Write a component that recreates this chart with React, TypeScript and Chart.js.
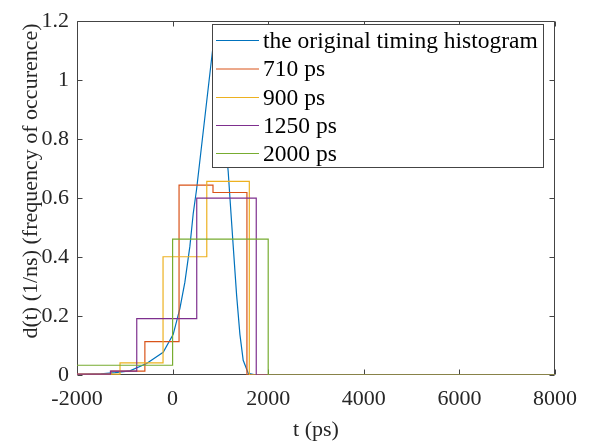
import React, { useEffect, useRef } from 'react';
import { Chart, registerables } from 'chart.js';

Chart.register(...registerables);

// ---- data ----
const seriesNames = ['the original timing histogram', '710 ps', '900 ps', '1250 ps', '2000 ps'];
const seriesColors = ['#0072BD', '#D95319', '#EDB120', '#7E2F8E', '#77AC30'];

// original timing histogram (t in ps, d in 1/ns)
const origT = [-2000, -1500, -1200, -893, -544, -197, 13, 153, 257, 362, 431, 502, 885, 1163, 1199, 1268, 1339, 1408, 1477, 1582, 1700, 2500, 8000];
const origD = [0.001, 0.004, 0.008, 0.014, 0.039, 0.077, 0.138, 0.226, 0.315, 0.437, 0.547, 0.63, 1.17, 0.69, 0.602, 0.437, 0.271, 0.138, 0.05, 0.006, 0.001, 0, 0];

// stairs: left bin edges and the value holding from that edge
const edges710 = [-2000, -1290, -580, 135, 845, 1555, 8000];
const vals710 = [0.002, 0.013, 0.113, 0.644, 0.619, 0, 0];

const edges900 = [-2000, -1100, -200, 715, 1605, 8000];
const vals900 = [0.003, 0.041, 0.401, 0.657, 0, 0];

const edges1250 = [-2000, -1300, -750, 505, 1750, 8000];
const vals1250 = [0.003, 0.013, 0.191, 0.6, 0, 0];

const edges2000 = [-2000, 0, 2000, 8000];
const vals2000 = [0.033, 0.461, 0, 0];

const xMin = -2000;
const xMax = 8000;
const xStep = 2000;
const yMin = 0;
const yMax = 1.2;
const yStep = 0.2;

const xTitle = 't (ps)';
const yTitle = 'd(t) (1/ns) (frequency of occurence)';

const FONT = '"Liberation Serif", "Times New Roman", serif';
const AXIS_COLOR = '#262626';

const toPts = (xs: number[], ys: number[]) => xs.map((x, i) => ({ x, y: ys[i] }));

const framePlugin = {
  id: 'matlabFrame',
  beforeDatasetsDraw(chart: any) {
    const { ctx, chartArea: a, scales } = chart;
    const x = scales.x;
    const y = scales.y;
    ctx.save();
    ctx.strokeStyle = '#444444';
    ctx.lineWidth = 1;
    const L = Math.round(a.left) + 0.5;
    const R = Math.round(a.right) - 0.5;
    const T = Math.round(a.top) + 0.5;
    const B = Math.round(a.bottom) - 0.5;
    ctx.beginPath();
    ctx.rect(L, T, R - L, B - T);
    const tl = 5;
    x.ticks.forEach((t: any) => {
      const px = Math.round(x.getPixelForValue(t.value)) + 0.5;
      ctx.moveTo(px, B);
      ctx.lineTo(px, B - tl);
      ctx.moveTo(px, T);
      ctx.lineTo(px, T + tl);
    });
    y.ticks.forEach((t: any) => {
      const py = Math.round(y.getPixelForValue(t.value)) + 0.5;
      ctx.moveTo(L, py);
      ctx.lineTo(L + tl, py);
      ctx.moveTo(R, py);
      ctx.lineTo(R - tl, py);
    });
    ctx.stroke();
    ctx.restore();
  },
  afterDatasetsDraw(chart: any) {
    const { ctx } = chart;
    ctx.save();
    // legend box
    const bx = 212.5, by = 24.5, bw = 331, bh = 143;
    ctx.fillStyle = '#ffffff';
    ctx.fillRect(bx, by, bw, bh);
    ctx.strokeStyle = '#444444';
    ctx.lineWidth = 1;
    ctx.strokeRect(bx, by, bw, bh);
    const rowY = [40.5, 69, 97.5, 125.5, 153.5];
    ctx.font = `23.5px ${FONT}`;
    ctx.textBaseline = 'middle';
    ctx.textAlign = 'left';
    seriesNames.forEach((name, i) => {
      ctx.beginPath();
      ctx.strokeStyle = seriesColors[i];
      ctx.lineWidth = 1;
      ctx.moveTo(216, rowY[i]);
      ctx.lineTo(259, rowY[i]);
      ctx.stroke();
      ctx.fillStyle = '#000000';
      ctx.fillText(name, 263, rowY[i] + 1);
    });
    ctx.restore();
  },
  afterDraw(chart: any) {
    const { ctx } = chart;
    ctx.save();
    ctx.translate(31, 181);
    ctx.rotate(-Math.PI / 2);
    ctx.font = `22px ${FONT}`;
    ctx.fillStyle = AXIS_COLOR;
    ctx.textAlign = 'center';
    ctx.textBaseline = 'middle';
    ctx.fillText(yTitle, 0, 0);
    ctx.restore();
  },
};

export default function App() {
  const ref = useRef<HTMLCanvasElement>(null);
  useEffect(() => {
    if (!ref.current) return;
    const mk = (label: string, xs: number[], ys: number[], color: string, order: number, stepped: any) => ({
      label,
      data: toPts(xs, ys),
      borderColor: color,
      backgroundColor: color,
      borderWidth: 1.2,
      pointRadius: 0,
      fill: false,
      tension: 0,
      stepped,
      order,
    });
    const chart = new Chart(ref.current, {
      type: 'line',
      data: {
        datasets: [
          mk(seriesNames[0], origT, origD, seriesColors[0], 4, false),
          mk(seriesNames[1], edges710, vals710, seriesColors[1], 3, 'before'),
          mk(seriesNames[2], edges900, vals900, seriesColors[2], 2, 'before'),
          mk(seriesNames[3], edges1250, vals1250, seriesColors[3], 1, 'before'),
          mk(seriesNames[4], edges2000, vals2000, seriesColors[4], 0, 'before'),
        ],
      },
      options: {
        responsive: false,
        animation: false,
        devicePixelRatio: 1,
        layout: { padding: { left: 0, top: 13, right: 38, bottom: 0 } },
        plugins: {
          legend: { display: false },
          tooltip: { enabled: false },
        },
        scales: {
          x: {
            type: 'linear',
            min: xMin,
            max: xMax,
            grid: { display: false, drawTicks: false },
            border: { display: false },
            ticks: {
              stepSize: xStep,
              padding: 11,
              color: AXIS_COLOR,
              font: { family: FONT, size: 22 },
              maxRotation: 0,
              callback: (v: any) => String(v),
            },
            title: {
              display: true,
              text: xTitle,
              color: AXIS_COLOR,
              font: { family: FONT, size: 22 },
              padding: { top: 0, bottom: 0 },
            },
            afterFit: (s: any) => { s.height = 68; },
          },
          y: {
            type: 'linear',
            min: yMin,
            max: yMax,
            grid: { display: false, drawTicks: false },
            border: { display: false },
            ticks: {
              stepSize: yStep,
              padding: 8,
              color: AXIS_COLOR,
              font: { family: FONT, size: 22 },
              callback: (v: any) => String(Math.round(v * 10) / 10),
            },
            afterFit: (s: any) => { s.width = 77; },
          },
        },
      },
      plugins: [framePlugin],
    });
    return () => chart.destroy();
  }, []);
  return (
    <div style={{ position: 'absolute', left: 0, top: 0, width: 593, height: 443, background: '#fff' }}>
      <canvas ref={ref} width={593} height={443} style={{ display: 'block' }} />
    </div>
  );
}
